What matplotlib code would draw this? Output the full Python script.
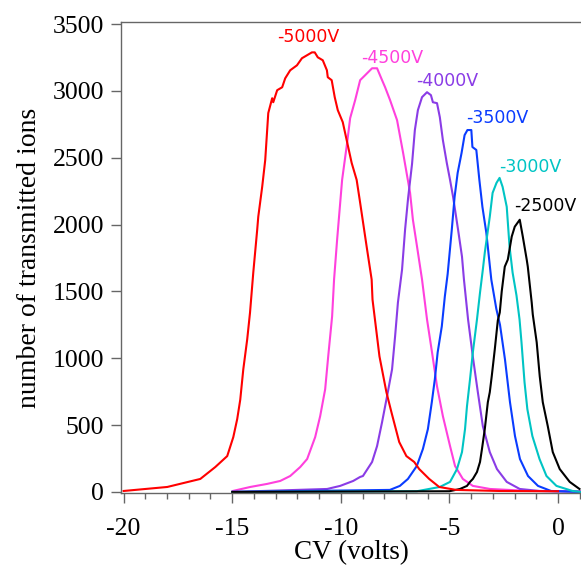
import matplotlib
matplotlib.use("Agg")
from matplotlib import pyplot as plt
from matplotlib.ticker import MultipleLocator

plt.rcParams["axes.unicode_minus"] = False

# CV (volts) / transmitted ion counts
cv_5000 = [-20.0, -17.99, -16.47, -15.78, -15.23, -14.95, -14.77, -14.63, -14.49, -14.31,
           -14.18, -14.03, -13.85, -13.80, -13.62, -13.48, -13.34, -13.16, -13.11, -12.93,
           -12.70, -12.56, -12.33, -12.02, -11.79, -11.56, -11.33, -11.20, -11.06, -10.83,
           -10.64, -10.60, -10.42, -10.28, -10.14, -9.91, -9.73, -9.50, -9.27, -9.13,
           -8.81, -8.58, -8.54, -8.22, -7.90, -7.67, -7.31, -6.98, -6.62, -6.39,
           -5.93, -5.47, -4.69, -2.71, 0.0]
ions_5000 = [7, 37, 97, 186, 268, 410, 545, 690, 917, 1141,
             1342, 1641, 1961, 2059, 2282, 2483, 2834, 2945, 2915, 3005,
             3027, 3094, 3154, 3191, 3244, 3266, 3288, 3288, 3251, 3229,
             3154, 3102, 3080, 2953, 2856, 2766, 2632, 2461, 2334, 2185,
             1835, 1589, 1439, 1014, 746, 597, 373, 268, 224, 171,
             97, 37, 15, 7, 5]

cv_4500 = [-14.97, -14.17, -13.39, -12.79, -12.33, -11.87, -11.55, -11.18, -10.95, -10.72,
           -10.58, -10.40, -10.31, -10.17, -9.94, -9.71, -9.57, -9.34, -9.11, -8.88,
           -8.56, -8.33, -8.10, -7.96, -7.73, -7.41, -7.13, -6.81, -6.68, -6.49,
           -6.26, -6.03, -5.80, -5.57, -5.30, -4.97, -4.74, -4.38, -3.92, -3.13,
           -1.29, 1.05]
ions_4500 = [7, 37, 60, 82, 119, 186, 246, 410, 567, 768,
             1014, 1313, 1589, 1886, 2334, 2610, 2796, 2930, 3080, 3117,
             3169, 3169, 3080, 3027, 2930, 2781, 2535, 2237, 2036, 1835,
             1589, 1290, 1044, 790, 567, 343, 194, 97, 45, 22,
             7, 5]

cv_4000 = [-14.99, -10.63, -10.03, -9.43, -9.11, -8.98, -8.56, -8.33, -8.10, -7.87,
           -7.64, -7.50, -7.37, -7.18, -7.04, -6.90, -6.72, -6.59, -6.45, -6.26,
           -6.03, -5.85, -5.76, -5.57, -5.44, -5.30, -5.12, -4.97, -4.83, -4.60,
           -4.42, -4.33, -4.14, -3.91, -3.69, -3.46, -3.14, -2.81, -2.36, -1.76,
           -0.84, 1.05]
ions_4000 = [0, 22, 45, 82, 112, 119, 224, 343, 522, 716,
             917, 1164, 1417, 1663, 1963, 2200, 2453, 2707, 2856, 2953,
             2990, 2968, 2915, 2908, 2803, 2632, 2461, 2334, 2207, 1961,
             1760, 1589, 1290, 999, 746, 492, 298, 171, 75, 22,
             7, 0]

cv_3500 = [-14.99, -7.74, -7.28, -6.91, -6.50, -6.22, -5.99, -5.81, -5.67, -5.54,
           -5.35, -5.21, -5.08, -4.89, -4.76, -4.62, -4.44, -4.30, -4.17, -3.99,
           -3.94, -3.76, -3.62, -3.48, -3.30, -3.07, -2.84, -2.67, -2.44, -2.21,
           -1.98, -1.75, -1.38, -0.92, -0.32, 1.05]
ions_3500 = [0, 15, 45, 97, 194, 321, 470, 671, 843, 1044,
             1238, 1462, 1630, 1961, 2207, 2386, 2535, 2669, 2707, 2707,
             2580, 2558, 2334, 2133, 1939, 1588, 1370, 1250, 990, 671,
             418, 246, 119, 45, 7, 0]

cv_3000 = [-15.0, -6.5, -5.44, -4.97, -4.65, -4.42, -4.28, -4.19, -4.05, -3.92,
           -3.73, -3.59, -3.46, -3.37, -3.14, -3.01, -2.83, -2.69, -2.55, -2.36,
           -2.23, -2.09, -1.91, -1.77, -1.68, -1.54, -1.41, -1.18, -0.85, -0.53,
           -0.07, 0.67, 1.05]
ions_3000 = [0, 5, 37, 75, 171, 298, 470, 641, 843, 1044,
             1290, 1491, 1663, 1790, 2059, 2237, 2312, 2349, 2282, 2133,
             1835, 1641, 1469, 1290, 1119, 820, 619, 418, 246, 119,
             45, 7, 0]

cv_2500 = [-15.0, -5.0, -4.51, -4.19, -4.05, -3.92, -3.73, -3.59, -3.50, -3.37,
           -3.23, -3.14, -3.05, -2.91, -2.77, -2.68, -2.59, -2.45, -2.31, -2.13,
           -1.99, -1.76, -1.62, -1.44, -1.39, -1.21, -1.16, -0.98, -0.84, -0.70,
           -0.47, -0.24, 0.08, 0.54, 0.99]
ions_2500 = [0, 5, 22, 45, 75, 97, 149, 224, 321, 470,
             671, 746, 865, 1066, 1283, 1342, 1500, 1685, 1738, 1910,
             1984, 2036, 1910, 1738, 1685, 1417, 1327, 1119, 865, 671,
             492, 298, 171, 75, 22]

series = [
    ("-4500V", cv_4500, ions_4500, "#ff40dd", (-7.65, 3248)),
    ("-4000V", cv_4000, ions_4000, "#8a3ce6", (-5.11, 3075)),
    ("-3500V", cv_3500, ions_3500, "#0a3cff", (-2.81, 2796)),
    ("-3000V", cv_3000, ions_3000, "#00c4c4", (-1.29, 2433)),
    ("-2500V", cv_2500, ions_2500, "#000000", (-0.60, 2142)),
    ("-5000V", cv_5000, ions_5000, "#ff0000", (-11.52, 3403)),
]

fig = plt.figure(figsize=(5.81, 5.69), dpi=100)
ax = fig.add_axes([0.2083, 0.1336, 0.7917, 0.8277])

for name, xs, ys, color, (lx, ly) in series:
    ax.plot(xs, ys, color=color, lw=1.5)
    ax.text(lx, ly, name, color=color, fontsize=12.5, ha="center", va="center",
            family="DejaVu Sans")

ax.set_xlim(-20.12, 1.06)
ax.set_ylim(-8, 3515)
ax.xaxis.set_major_locator(MultipleLocator(5))
ax.xaxis.set_minor_locator(MultipleLocator(1))
ax.yaxis.set_major_locator(MultipleLocator(500))

ax.spines["right"].set_visible(False)
for s in ["left", "top", "bottom"]:
    ax.spines[s].set_color("#666666")
    ax.spines[s].set_linewidth(1.0)

ax.tick_params(axis="both", which="major", direction="out", length=7, width=1,
               color="#666666", labelsize=18.5)
ax.tick_params(axis="x", which="minor", direction="out", length=4.5, width=1,
               color="#666666")
ax.tick_params(axis="x", which="major", pad=11)
ax.tick_params(axis="y", which="major", pad=5)
ax.tick_params(top=False, right=False)

for lab in ax.get_xticklabels() + ax.get_yticklabels():
    lab.set_family("Liberation Serif")

ax.set_xlabel("CV (volts)", fontsize=19.5, family="Liberation Serif", labelpad=0)
ax.set_ylabel("number of transmitted ions", fontsize=20, family="Liberation Serif",
              labelpad=8)

fig.savefig("out.png", dpi=100)
